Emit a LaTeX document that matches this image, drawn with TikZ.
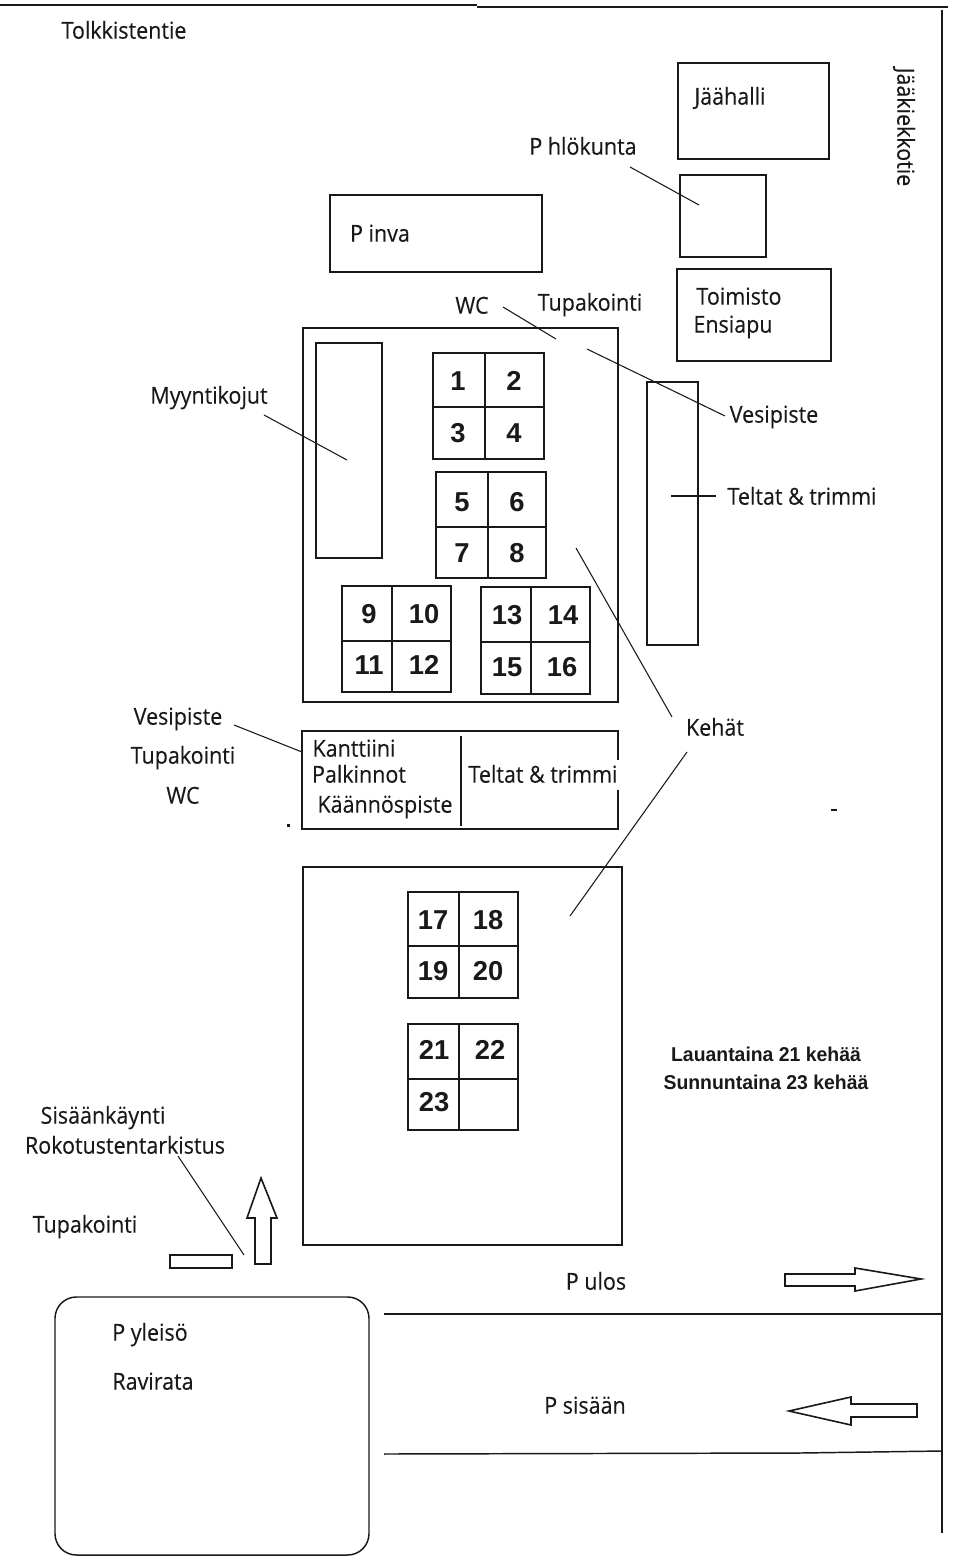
\documentclass[tikz,border=0pt]{standalone}
\usepackage{fontspec}
\usepackage{tikz}
\setmainfont[FakeStretch=.92,FakeBold=.25]{Open Sans}
\newfontfamily\numfont{Liberation Sans}
\newfontfamily\notefont[FakeStretch=.97]{Liberation Sans}
\definecolor{inkgray}{RGB}{25,25,25}

\begin{document}
\begin{tikzpicture}[x=.75pt,y=-.75pt,
  room/.style={draw=inkgray,line width=1.5pt},
  cell/.style={draw=inkgray,line width=1.1pt},
  road/.style={draw=inkgray,line width=1.5pt},
  lead/.style={draw=inkgray,line width=.8pt},
  lbl/.style={inner sep=0pt,text=inkgray,text height=13pt,text depth=0pt,font=\fontsize{17.5}{19}\selectfont},
  num/.style={inner sep=0pt,text=inkgray,font=\numfont\bfseries\fontsize{20.5}{23}\selectfont},
  note/.style={inner sep=0pt,text=inkgray,font=\notefont\bfseries\fontsize{15}{17}\selectfont},
  flow/.style={draw=inkgray,fill=white,line width=1.2pt,line join=miter}]
\useasboundingbox (0,0) rectangle (960,1566);

% roads round the area
\draw[road] (0,5)--(477,5);
\draw[lead] (477,7)--(948,7);
\draw[road] (942,10)--(942,1533);
\draw[road] (384,1314)--(942,1314);
\draw[road,line width=1.1pt] (384,1454)--(800,1453)--(942,1451);

% buildings
\draw[room] (678,63) rectangle (829,159);
\draw[cell] (680,175) rectangle (766,257);
\draw[room] (677,269) rectangle (831,361);
\draw[room] (330,195) rectangle (542,272);

% upper field
\draw[room] (303,328) rectangle (618,702);
\draw[room] (316,343) rectangle (382,558);
\draw[room] (647,382) rectangle (698,645);

\draw[cell] (433,353) rectangle (544,459) (485,353)--(485,459) (433,407)--(544,407);
\draw[cell] (436,472) rectangle (546,578) (488,472)--(488,578) (436,527)--(546,527);
\draw[cell] (342,586) rectangle (451,692) (392,586)--(392,692) (342,641)--(451,641);
\draw[cell] (481,587) rectangle (590,694) (531,587)--(531,694) (481,642)--(590,642);

% canteen, right edge stops around its text
\draw[room] (618,760)--(618,731)--(302,731)--(302,829)--(618,829)--(618,790);
\draw[cell] (461,736)--(461,826);

% lower field
\draw[room] (303,867) rectangle (622,1245);
\draw[cell] (408,892) rectangle (518,998) (459,892)--(459,998) (408,946)--(518,946);
\draw[cell] (408,1024) rectangle (518,1130) (459,1024)--(459,1130) (408,1079)--(518,1079);

% entrance and parking
\draw[cell] (170,1255) rectangle (232,1268);
\draw[cell,rounded corners=16pt] (55,1297) rectangle (369,1555);

% arrows
\draw[flow] (261,1178)--(277,1218)--(271,1218)--(271,1264)--(255,1264)--(255,1218)--(247,1218)--cycle;
\draw[flow] (785,1274)--(855,1274)--(855,1268)--(921,1279)--(855,1291)--(855,1286)--(785,1286)--cycle;
\draw[flow] (789,1411)--(851,1397)--(851,1404)--(917,1404)--(917,1417)--(851,1417)--(851,1425)--cycle;

% leader lines
\draw[lead] (630,167)--(699,205);
\draw[lead] (503,307)--(556,339);
\draw[lead] (587,349)--(725,416);
\draw[lead] (264,415)--(347,460);
\draw[lead] (671,496)--(716,496);
\draw[lead] (576,548)--(672,717);
\draw[lead] (687,752)--(570,916);
\draw[lead] (234,725)--(302,752);
\draw[lead] (178,1156)--(244,1255);

% small specks
\fill[inkgray] (287,824) rectangle (290,827);
\fill[inkgray] (831,809) rectangle (837,811);

% place names
\node[lbl] (tolkki) at (124,30) {Tolkkistentie};
\node[lbl,rotate=-90] (jaakiekko) at (906,127) {Jääkiekkotie};
\node[lbl] (jaahalli) at (730,96) {Jäähalli};
\node[lbl] (hlokunta) at (583,146) {P hlökunta};
\node[lbl] (inva) at (380,233) {P inva};
\node[lbl] (wca) at (472,305) {WC};
\node[lbl] (tupa) at (590,302) {Tupakointi};
\node[lbl] (toimisto) at (739,296) {Toimisto};
\node[lbl] (ensiapu) at (733,324) {Ensiapu};
\node[lbl] (myynti) at (209,395) {Myyntikojut};
\node[lbl] (vesia) at (774,414) {Vesipiste};
\node[lbl] (teltata) at (802,496) {Teltat \& trimmi};
\node[lbl] (kehat) at (715,727) {Kehät};
\node[lbl] (vesib) at (178,716) {Vesipiste};
\node[lbl] (tupb) at (183,755) {Tupakointi};
\node[lbl] (wcb) at (183,795) {WC};
\node[lbl] (kanttiini) at (354,748) {Kanttiini};
\node[lbl] (palkinnot) at (359,774) {Palkinnot};
\node[lbl] (kaannos) at (385,804) {Käännöspiste};
\node[lbl] (teltatb) at (543,774) {Teltat \& trimmi};
\node[lbl] (sisaan) at (103,1115) {Sisäänkäynti};
\node[lbl] (rokotus) at (125,1145) {Rokotustentarkistus};
\node[lbl] (tupc) at (85,1224) {Tupakointi};
\node[lbl] (ulos) at (596,1281) {P ulos};
\node[lbl] (yleiso) at (150,1332) {P yleisö};
\node[lbl] (ravirata) at (153,1381) {Ravirata};
\node[lbl] (psisaan) at (585,1405) {P sisään};
\node[note] (lauantai) at (766,1054) {Lauantaina 21 kehää};
\node[note] (sunnuntai) at (766,1082) {Sunnuntaina 23 kehää};

% ring numbers
\node[num] (r1) at (458,381) {1};
\node[num] (r2) at (514,381) {2};
\node[num] (r3) at (458,433) {3};
\node[num] (r4) at (514,433) {4};
\node[num] (r5) at (462,502) {5};
\node[num] (r6) at (517,502) {6};
\node[num] (r7) at (462,553) {7};
\node[num] (r8) at (517,553) {8};
\node[num] (r9) at (369,614) {9};
\node[num] (r10) at (424,614) {10};
\node[num] (r11) at (369,665) {11};
\node[num] (r12) at (424,665) {12};
\node[num] (r13) at (507,615) {13};
\node[num] (r14) at (563,615) {14};
\node[num] (r15) at (507,667) {15};
\node[num] (r16) at (562,667) {16};
\node[num] (r17) at (433,920) {17};
\node[num] (r18) at (488,920) {18};
\node[num] (r19) at (433,971) {19};
\node[num] (r20) at (488,971) {20};
\node[num] (r21) at (434,1050) {21};
\node[num] (r22) at (490,1050) {22};
\node[num] (r23) at (434,1102) {23};
\end{tikzpicture}
\end{document}
